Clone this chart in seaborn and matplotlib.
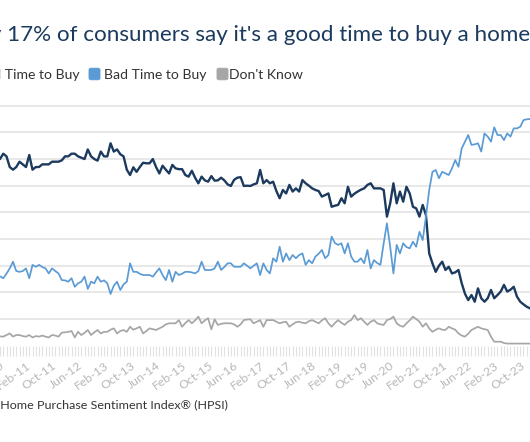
import numpy as np
import pandas as pd
import matplotlib
matplotlib.use("Agg")
import matplotlib.pyplot as plt
from matplotlib.patches import FancyBboxPatch
import seaborn as sns

# ---------------- data (monthly, starting Jun-2010) ----------------
start_month = "2010-06"
good_time = [
    70, 72, 71, 67, 66, 67, 69, 68, 67, 71.5, 66, 67, 67, 68, 68, 68, 69, 69, 69, 69.5,
    71, 71, 72, 72, 71, 70.5, 70, 73.6, 71, 70, 69.4, 72.8, 71, 71, 75.9, 72.8, 73.6, 71.8, 71, 66,
    64, 66.9, 65.2, 67, 68.6, 68.4, 68.4, 70, 67, 64.6, 67.5, 66, 64.6, 67.8, 66.5, 66.2, 66.2, 64, 63.4, 65.6,
    63, 60.9, 63.4, 62, 61.5, 63.6, 61.9, 62, 63, 62, 60.5, 59.9, 62.2, 63, 63.2, 59.9, 60, 59.9, 60.5, 60.9,
    65.9, 60.9, 62.1, 60.9, 61.5, 58, 55.3, 58.4, 57.1, 60.3, 57.8, 59, 57.8, 62.1, 60.9, 60, 59, 58.4, 58, 55.9,
    56.5, 57.1, 52.1, 52.5, 52.8, 55.3, 53.4, 59.6, 55.9, 57, 57.8, 58.5, 59, 60.3, 60.9, 59, 59, 59, 58.4, 48.4,
    53.4, 60.9, 53.4, 57.8, 54, 59.6, 57.1, 52.1, 51.5, 48.4, 52.8, 49, 34.6, 30.9, 27.7, 30, 31.5, 28.4, 29.6, 27.1,
    27.5, 28.4, 23.4, 19.5, 17.1, 19, 16.5, 21.5, 17.8, 16.5, 17.8, 20.9, 17.8, 19, 20.3, 22.8, 20.3, 21, 22.1, 18.4,
    16.5, 15.5, 14.6, 14,
]
bad_time = [
    26, 25.3, 27, 29, 31.5, 28, 27.7, 28, 29, 25.3, 30.3, 29.6, 30.3, 29.5, 29, 27.1, 29, 28, 27.1, 24.6,
    24.5, 24, 25.3, 22.1, 23.4, 24, 25.9, 21.3, 24, 23.4, 25.9, 24, 24.5, 23.4, 19.4, 22.5, 24, 20.9, 23, 24,
    30.9, 27.7, 27.7, 27, 26.5, 26.5, 26.5, 25.9, 27.5, 29, 26.5, 24.6, 28.4, 24, 27.7, 26.5, 27, 27.7, 27.7, 27.5,
    27.1, 28, 31.5, 28.4, 28.4, 28.4, 29, 31.5, 28.4, 29.5, 30.9, 30.9, 29.6, 29.6, 29.6, 30.9, 30, 29, 30, 30.9,
    26.5, 30.9, 28.4, 27.1, 32.8, 31.5, 37.1, 31.5, 34.6, 32.1, 34, 32.8, 34, 34.6, 30.3, 32.1, 30.9, 33.4, 34.5, 35.9,
    32.8, 34, 40.9, 38.5, 37.8, 38.4, 34.6, 38.4, 33.4, 31.5, 31.5, 32.8, 30.9, 35.9, 29, 32.1, 31, 30.3, 38.4, 45.9,
    37.1, 27.1, 37.8, 34.6, 38.4, 37, 36.5, 39, 37.1, 42.7, 39.6, 48.4, 58.4, 65.2, 65.9, 62.8, 65.2, 64.6, 64, 66.5,
    69.6, 67.1, 74, 76.5, 79, 75.3, 75.5, 75.9, 72.8, 79.6, 78.4, 76.5, 81.9, 79, 79, 77.1, 79.6, 78.4, 81.5, 81.5,
    82.1, 84.6, 84.9, 85,
]
dont_know = [
    3.5, 3.4, 4, 4.6, 3.4, 4, 4, 3.6, 3.4, 4, 3.1, 3.6, 3.4, 3.8, 3.4, 3.1, 4, 3.8, 3.4, 4.9,
    5, 5.2, 5.5, 3.1, 5.2, 4, 4.8, 5.9, 4, 5, 5.9, 4.6, 5.2, 5.2, 6, 6.5, 4.6, 5.5, 5.9, 5.2,
    7.1, 6, 6.5, 7.1, 4.6, 5.5, 6.5, 6.2, 5.9, 6.5, 7.1, 8, 8.4, 8.4, 8.4, 9.6, 7.1, 8.5, 9.6, 8.4,
    9.5, 10.9, 8.4, 9.5, 10.3, 6.1, 9.9, 7.8, 8.2, 8.4, 8.4, 8.4, 8, 7.1, 8, 9.6, 9.8, 9.9, 8.4, 9,
    9.6, 7.1, 9.6, 9.6, 9.6, 9, 8.4, 8.8, 9, 7.1, 8, 8.8, 9, 8.6, 8.4, 9.2, 9.6, 9, 8.4, 9.5,
    10.3, 8.4, 7.1, 8.5, 9.6, 8.6, 7.8, 9, 9.6, 11.5, 9.6, 10.3, 9, 7.8, 9, 9.6, 8.4, 8, 7.8, 9.6,
    10, 10.9, 8.4, 7.5, 7.1, 8.4, 9.5, 10.9, 10, 9, 7.1, 8.4, 6.5, 5.2, 6, 6.5, 6, 5.9, 7.1, 6.5,
    6, 4.6, 3.8, 3.4, 4.5, 5.9, 6.5, 7.1, 6.5, 6.2, 5.9, 3.4, 1.5, 1.5, 1.5, 1, 0.8, 0.8, 0.8, 0.8,
    0.8, 0.8, 0.8, 0.8,
]
series_names = ["Good Time to Buy", "Bad Time to Buy", "Don't Know"]
series_colors = ["#1c3a5e", "#5b9bd5", "#a6a6a6"]
tick_labels = ["Jun-10", "Feb-11", "Oct-11", "Jun-12", "Feb-13", "Oct-13", "Jun-14", "Feb-15",
               "Oct-15", "Jun-16", "Feb-17", "Oct-17", "Jun-18", "Feb-19", "Oct-19", "Jun-20",
               "Feb-21", "Oct-21", "Jun-22", "Feb-23", "Oct-23"]
title_text = "Only 17% of consumers say it's a good time to buy a home"
source_text = "Source: Fannie Mae Home Purchase Sentiment Index\u00ae (HPSI)"

# ---------------- build table ----------------
n = len(good_time)
dates = pd.period_range(start_month, periods=n, freq="M")
month_idx = np.arange(n)
df = pd.concat([
    pd.DataFrame({"idx": month_idx, "date": dates, "value": vals, "series": name})
    for name, vals in zip(series_names, [good_time, bad_time, dont_know])
])
label_dates = pd.PeriodIndex([pd.Period(pd.to_datetime(l, format="%b-%y"), freq="M") for l in tick_labels])
tick_pos = [(p - dates[0]).n for p in label_dates]

# ---------------- figure ----------------
sns.set_theme(style="white")
plt.rcParams["font.family"] = ["Lato", "DejaVu Sans"]

W, H = 530, 442
fig = plt.figure(figsize=(W / 100, H / 100), dpi=100)
renderer = fig.canvas.get_renderer()

def px_x(x):
    return x / W

def px_y(y):
    return 1 - y / H

def text_width(s, size):
    t = fig.text(0, 0, s, fontsize=size)
    w = t.get_window_extent(renderer).width
    t.remove()
    return w

# axes placement: y=0 at 345.7 px, 2.667 px per unit
y0_px, ppu = 345.7, 2.6667
ytop = 90.5
top_px = y0_px - ytop * ppu
ax = fig.add_axes([0, px_y(y0_px), 1, (y0_px - top_px) / H])

sns.lineplot(data=df, x="idx", y="value", hue="series", hue_order=series_names,
             palette=series_colors, ax=ax, legend=False, estimator=None)
lws = [1.7, 1.25, 1.25]
for line, lw in zip(ax.get_lines(), lws):
    line.set_linewidth(lw)
    line.set_solid_joinstyle("round")

ax.set_xlim(1.758, 162.36)
ax.set_ylim(0, ytop)
ax.set_yticks(np.arange(10, 91, 10))
ax.yaxis.grid(True, color="#e6e6e6", linewidth=1.3)
ax.xaxis.grid(False)
ax.tick_params(axis="y", left=False, labelleft=False)
for s in ax.spines.values():
    s.set_visible(False)
ax.set_xlabel("")
ax.set_ylabel("")

ax.set_xticks(tick_pos)
ax.set_xticklabels(tick_labels, rotation=36, ha="right", va="top",
                   rotation_mode="anchor", fontsize=8.8, color="#b8b8b8")
ax.set_xticks(month_idx, minor=True)
ax.tick_params(axis="x", which="both", bottom=True, length=7, width=0.8,
               color="#e2e2e2", direction="out", pad=3)

# ---------------- title ----------------
title_color = "#1c3a5e"
sub = title_text[title_text.index("17%"):-1]
tsize = 16 * 511 / text_width(sub, 16)
prefix_w = text_width("Only 17%", tsize) - text_width("17%", tsize)
fig.text(px_x(7 - prefix_w), px_y(41), title_text, fontsize=tsize,
         color=title_color, ha="left", va="baseline")

# ---------------- legend ----------------
lsize = 11 * 102 / text_width("Bad Time to Buy", 11)
leg_base = 79
text_color = "#333333"
legend_spec = [
    # (square left px, text left px or None, text right px or None)
    (None, None, 80),
    (89, 104, None),
    (217, 229, None),
]
for (sq_x, tx_l, tx_r), name, col in zip(legend_spec, series_names, series_colors):
    if tx_r is not None:
        tw = text_width(name, lsize)
        tx_l = tx_r - tw
        sq_x = tx_l - 15
    sq = FancyBboxPatch((px_x(sq_x + 1), px_y(79)), 9 / W, 10 / H,
                        boxstyle="round,pad=0.002,rounding_size=0.004",
                        transform=fig.transFigure, facecolor=col, edgecolor=col,
                        linewidth=0.5)
    fig.patches.append(sq)
    fig.text(px_x(tx_l), px_y(leg_base), name, fontsize=lsize, color=text_color,
             ha="left", va="baseline")

# ---------------- source ----------------
ssize = 10.5 * 228 / text_width("Home Purchase Sentiment Index\u00ae (HPSI)", 10.5)
pre_w = text_width("Source: Fannie Mae Home", ssize) - text_width("Home", ssize)
fig.text(px_x(0.5 - pre_w), px_y(408), source_text, fontsize=ssize, color=text_color,
         ha="left", va="baseline")

fig.savefig("out.png", dpi=100)
